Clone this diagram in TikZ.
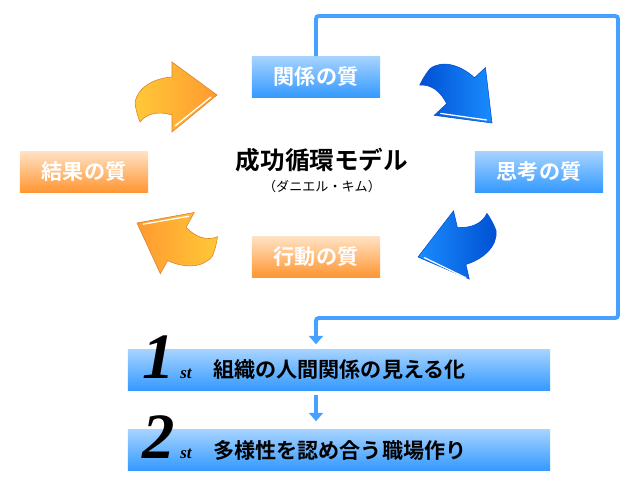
\documentclass[tikz,border=0pt]{standalone}
\usepackage{fontspec}
\newfontfamily\jpfont{Noto Sans CJK JP}[BoldFont={Noto Sans CJK JP Bold}]
\newfontfamily\numfont{Liberation Serif}
\usetikzlibrary{arrows.meta, positioning, calc}
\definecolor{blueTop}{HTML}{A6D3FF}
\definecolor{blueBot}{HTML}{3399FF}
\definecolor{orangeTop}{HTML}{FFE2C4}
\definecolor{orangeBot}{HTML}{FF9530}
\definecolor{curlOrangeA}{HTML}{FFC838}
\definecolor{curlOrangeB}{HTML}{FF9A30}
\definecolor{curlBlueA}{HTML}{0050D2}
\definecolor{curlBlueB}{HTML}{1A8CFF}
\definecolor{frameBlue}{HTML}{45A0FF}
\tikzset{
    bluebox/.style={rectangle, top color=blueTop, bottom color=blueBot, minimum width=3.2cm, minimum height=1.025cm, text=white, font=\jpfont\bfseries\fontsize{15}{17}\selectfont},
    orangebox/.style={rectangle, top color=orangeTop, bottom color=orangeBot, minimum width=3.2cm, minimum height=1.025cm, text=white, font=\jpfont\bfseries\fontsize{15}{17}\selectfont},
    stepbar/.style={rectangle, top color=blueTop, bottom color=blueBot, minimum width=10.55cm, minimum height=1.025cm},
    bartext/.style={anchor=west, inner sep=0pt, font=\jpfont\bfseries\fontsize{15}{17}\selectfont},
    bignum/.style={anchor=base, inner sep=0pt, font=\numfont\bfseries\itshape\fontsize{46}{46}\selectfont},
    ordsuffix/.style={anchor=base, inner sep=0pt, font=\numfont\bfseries\itshape\fontsize{12}{12}\selectfont},
    orangecurl/.style={left color=curlOrangeA, right color=curlOrangeB, draw=curlOrangeB!85!black, line width=0.4pt},
    orangecurlback/.style={left color=curlOrangeB, right color=curlOrangeA, draw=curlOrangeB!85!black, line width=0.4pt},
    bluecurl/.style={left color=curlBlueA, right color=curlBlueB, draw=curlBlueA, line width=0.4pt},
    bluecurlback/.style={left color=curlBlueB, right color=curlBlueA, draw=curlBlueA, line width=0.4pt},
    flowline/.style={draw=frameBlue, line width=2.8pt, -{Triangle[width=10pt,length=6pt]}},
    pics/curlarrow/.style 2 args={code={
        \shade[#1] (0,0) -- (-45,-33) -- (-45,-18)
            .. controls (-62,-17) and (-80,-8) .. (-82,8)
            .. controls (-81,16) and (-79,22) .. (-77,27)
            .. controls (-70,18) and (-58,16) .. (-45,20)
            -- (-45,37) -- cycle;
        \draw[white, line width=0.9pt, line cap=round] (-6,{#2*2}) -- (-42,{#2*31});
    }}
}
\begin{document}
\begin{tikzpicture}[x=0.025cm, y=-0.025cm]
    \useasboundingbox[fill=white] (0,0) rectangle (638,482);
    % curled arrows of the cycle
    \pic[rotate=0] at (217,95) {curlarrow={orangecurl}{1}};
    \pic[rotate=-47] at (492,123) {curlarrow={bluecurl}{1}};
    \pic[rotate=193] at (418,257) {curlarrow={bluecurlback}{-1}};
    \pic[rotate=151] at (137,223) {curlarrow={orangecurlback}{1}};
    % four qualities
    \node[bluebox] (rel) at (316,77) {関係の質};
    \node[bluebox] (think) at (539,172) {思考の質};
    \node[orangebox] (act) at (316,257) {行動の質};
    \node[orangebox] (res) at (84,172) {結果の質};
    \node[font=\jpfont\bfseries\fontsize{17.5}{19}\selectfont] (ttl) at (322,160) {成功循環モデル};
    \node[font=\jpfont\fontsize{9.3}{11}\selectfont] (sub) at (322,187) {（ダニエル・キム）};
    % steps
    \node[stepbar] (bar1) at (339,370) {};
    \node[stepbar] (bar2) at (339,450) {};
    \node[bignum] (num1) at (159,378) {1};
    \node[ordsuffix] (ord1) at (186,378) {st};
    \node[bartext] (txt1) at (213,370) {組織の人間関係の見える化};
    \node[bignum] (num2) at (159,458) {2};
    \node[ordsuffix] (ord2) at (186,458) {st};
    \node[bartext] (txt2) at (213,450) {多様性を認め合う職場作り};
    % frame line
    \coordinate (ne) at (618,16);
    \coordinate (se) at (618,318);
    \draw[flowline, rounded corners=2, shorten >=3.5pt] (rel.north) -- (rel.north |- ne) -- (ne) -- (se) -- (rel.north |- se) -- (rel.north |- bar1.north);
    \draw[flowline, shorten <=2.8pt, shorten >=5.7pt] (rel.north |- bar1.south) -- (rel.north |- bar2.north);
\end{tikzpicture}
\end{document}
